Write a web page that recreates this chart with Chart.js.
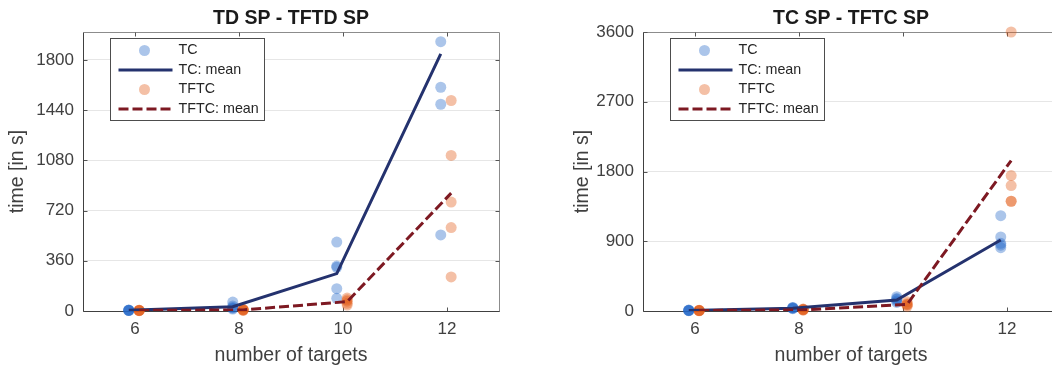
<!DOCTYPE html>
<html>
<head>
<meta charset="utf-8">
<script src="https://cdn.jsdelivr.net/npm/chart.js@4/dist/chart.umd.min.js"></script>
<style>
  html, body { margin: 0; padding: 0; background: #fff; overflow: hidden; width: 1052px; height: 370px; }
  #wrap { position: relative; width: 1052px; height: 370px; overflow: hidden; }
  canvas { position: absolute; top: 0; }
  #c1 { left: 0; }
  #c2 { left: 560px; }
</style>
</head>
<body>
<div id="wrap">
  <canvas id="c1" width="560" height="370"></canvas>
  <canvas id="c2" width="560" height="370"></canvas>
</div>
<script>
// Problem sizes and the ticks shown on the x axis
const targets = [6, 8, 10, 12];
const xTicks = [6, 8, 10, 12];

// TD SP vs TFTD SP: solve times in seconds, one list per number of targets
const tdTC = [[3, 4, 5, 6, 8], [14, 20, 25, 36, 64], [91, 160, 313, 322, 494], [545, 1482, 1604, 1931]];
const tdTCMean = [5, 31, 268, 1843];
const tdTFTC = [[2, 3, 4, 5, 6], [5, 6, 8, 10, 12], [43, 55, 70, 80, 93], [244, 598, 781, 1115, 1509]];
const tdTFTCMean = [4, 8, 67, 845];
const tdYTicks = [0, 360, 720, 1080, 1440, 1800];
const tdYMax = 2000;

// TC SP vs TFTC SP: solve times in seconds
const tcTC = [[4, 6, 8, 10, 12], [30, 35, 40, 43, 45], [110, 130, 151, 160, 185], [817, 850, 874, 955, 1230]];
const tcTCMean = [8, 36, 142, 917];
const tcTFTC = [[3, 5, 6, 8, 10], [10, 15, 18, 22, 25], [60, 77, 85, 95, 120], [1416, 1416, 1618, 1747, 3600]];
const tcTFTCMean = [6, 15, 86, 1941];
const tcYTicks = [0, 900, 1800, 2700, 3600];
const tcYMax = 3600;

// Styling
const FONT = '"Liberation Sans", Arial, Helvetica, sans-serif';
const TICK_COLOR = '#404040';
const TC_SHIFT = -0.12;   // TC markers sit just left of each x
const TFTC_SHIFT = 0.08;  // TFTC markers just right
const TC_POINT = 'rgba(35, 102, 200, 0.38)';
const TFTC_POINT = 'rgba(225, 90, 20, 0.38)';
const TC_LINE = '#24326e';
const TFTC_LINE = '#7d1922';

function pointsOf(groups, shift) {
  const pts = [];
  groups.forEach((vals, i) => vals.forEach(v => pts.push({ x: targets[i] + shift, y: v })));
  return pts;
}
function lineOf(means, shift) {
  return means.map((v, i) => ({ x: targets[i] + shift, y: v }));
}

// Box around the axes with inward tick marks on all four sides
const framePlugin = {
  id: 'frame',
  beforeDatasetsDraw(chart) {
    const { ctx, chartArea: a, scales: { x, y } } = chart;
    const L = Math.round(a.left) + 0.5, R = Math.round(a.right) + 0.5;
    const T = Math.round(a.top) + 0.5, B = Math.round(a.bottom) + 0.5;
    ctx.save();
    ctx.lineWidth = 1;
    ctx.strokeStyle = '#8c8c8c';
    ctx.beginPath();
    ctx.moveTo(L, T); ctx.lineTo(R, T); ctx.lineTo(R, B);
    ctx.stroke();
    ctx.strokeStyle = '#555';
    ctx.beginPath();
    x.ticks.forEach(t => {
      const px = Math.round(x.getPixelForValue(t.value)) + 0.5;
      ctx.moveTo(px, T); ctx.lineTo(px, T + 4);
      ctx.moveTo(px, B); ctx.lineTo(px, B - 4);
    });
    y.ticks.forEach(t => {
      const py = Math.round(y.getPixelForValue(t.value)) + 0.5;
      ctx.moveTo(L, py); ctx.lineTo(L + 4, py);
      ctx.moveTo(R, py); ctx.lineTo(R - 4, py);
    });
    ctx.stroke();
    ctx.strokeStyle = '#404040';
    ctx.beginPath();
    ctx.moveTo(L, T); ctx.lineTo(L, B); ctx.lineTo(R, B);
    ctx.stroke();
    ctx.restore();
  }
};

// Boxed single-column legend in the upper left of the plot area
const legendPlugin = {
  id: 'boxLegend',
  afterDatasetsDraw(chart) {
    const { ctx, chartArea: a } = chart;
    const bx = Math.round(a.left + 27) + 0.5, by = Math.round(a.top + 6) + 0.5;
    const bw = 154, bh = 82;
    ctx.save();
    ctx.fillStyle = '#fff';
    ctx.fillRect(bx, by, bw, bh);
    ctx.strokeStyle = '#4d4d4d';
    ctx.lineWidth = 1;
    ctx.strokeRect(bx, by, bw, bh);
    ctx.font = '14.3px ' + FONT;
    ctx.textBaseline = 'middle';
    ctx.textAlign = 'left';
    ['TC', 'TC: mean', 'TFTC', 'TFTC: mean'].forEach((label, i) => {
      const ds = chart.data.datasets.find(d => d.label === label);
      const cy = by + 12 + i * 19.5;
      if (ds.showLine) {
        ctx.strokeStyle = ds.borderColor;
        ctx.lineWidth = ds.borderWidth;
        ctx.setLineDash(ds.borderDash || []);
        ctx.beginPath();
        ctx.moveTo(bx + 8, cy); ctx.lineTo(bx + 62, cy);
        ctx.stroke();
        ctx.setLineDash([]);
      } else {
        ctx.fillStyle = ds.backgroundColor;
        ctx.beginPath();
        ctx.arc(bx + 34, cy, ds.pointRadius, 0, Math.PI * 2);
        ctx.fill();
      }
      ctx.fillStyle = '#262626';
      ctx.fillText(label, bx + 68, cy);
    });
    ctx.restore();
  }
};

function makeChart(id, title, tc, tcMean, tftc, tftcMean, yTicks, yMax, yTitlePad) {
  return new Chart(document.getElementById(id), {
    type: 'scatter',
    data: {
      datasets: [
        { label: 'TFTC: mean', data: lineOf(tftcMean, TFTC_SHIFT), showLine: true, fill: false,
          borderColor: TFTC_LINE, borderWidth: 3, borderDash: [10, 4], pointRadius: 0, order: 0 },
        { label: 'TC: mean', data: lineOf(tcMean, TC_SHIFT), showLine: true, fill: false,
          borderColor: TC_LINE, borderWidth: 3, pointRadius: 0, order: 1 },
        { label: 'TFTC', data: pointsOf(tftc, TFTC_SHIFT), backgroundColor: TFTC_POINT,
          borderWidth: 0, pointRadius: 5.5, order: 2, clip: false },
        { label: 'TC', data: pointsOf(tc, TC_SHIFT), backgroundColor: TC_POINT,
          borderWidth: 0, pointRadius: 5.5, order: 3, clip: false }
      ]
    },
    options: {
      responsive: false,
      animation: false,
      devicePixelRatio: 1,
      layout: { padding: { top: 0.6, right: 61, left: 0, bottom: 0 } },
      plugins: {
        legend: { display: false },
        tooltip: { enabled: false },
        title: {
          display: true, text: title, fullSize: false, color: '#1a1a1a',
          font: { family: FONT, size: 19.5, weight: 'bold' },
          padding: { top: 6, bottom: 2 }
        }
      },
      scales: {
        x: {
          type: 'linear', min: 5, max: 13,
          afterBuildTicks: s => { s.ticks = xTicks.map(v => ({ value: v })); },
          afterFit: s => { s.height = 59; },
          grid: { display: false, drawTicks: false },
          border: { display: false },
          ticks: { padding: 8, color: TICK_COLOR, font: { family: FONT, size: 17 }, callback: v => String(v) },
          title: { display: true, text: 'number of targets', color: TICK_COLOR,
                   font: { family: FONT, size: 19.5 }, padding: { top: 0, bottom: 2.5 } }
        },
        y: {
          type: 'linear', min: 0, max: yMax,
          afterBuildTicks: s => { s.ticks = yTicks.map(v => ({ value: v })); },
          afterFit: s => { s.width = 83; },
          grid: { color: '#e6e6e6', drawTicks: false, lineWidth: 1 },
          border: { display: false },
          ticks: { padding: 9, color: TICK_COLOR, font: { family: FONT, size: 17 }, callback: v => String(v) },
          title: { display: true, text: 'time [in s]', color: TICK_COLOR,
                   font: { family: FONT, size: 19.5 }, padding: { top: yTitlePad, bottom: 0 } }
        }
      }
    },
    plugins: [framePlugin, legendPlugin]
  });
}

makeChart('c1', 'TD SP - TFTD SP', tdTC, tdTCMean, tdTFTC, tdTFTCMean, tdYTicks, tdYMax, 6.3);
makeChart('c2', 'TC SP - TFTC SP', tcTC, tcTCMean, tcTFTC, tcTFTCMean, tcYTicks, tcYMax, 11.3);
</script>
</body>
</html>
